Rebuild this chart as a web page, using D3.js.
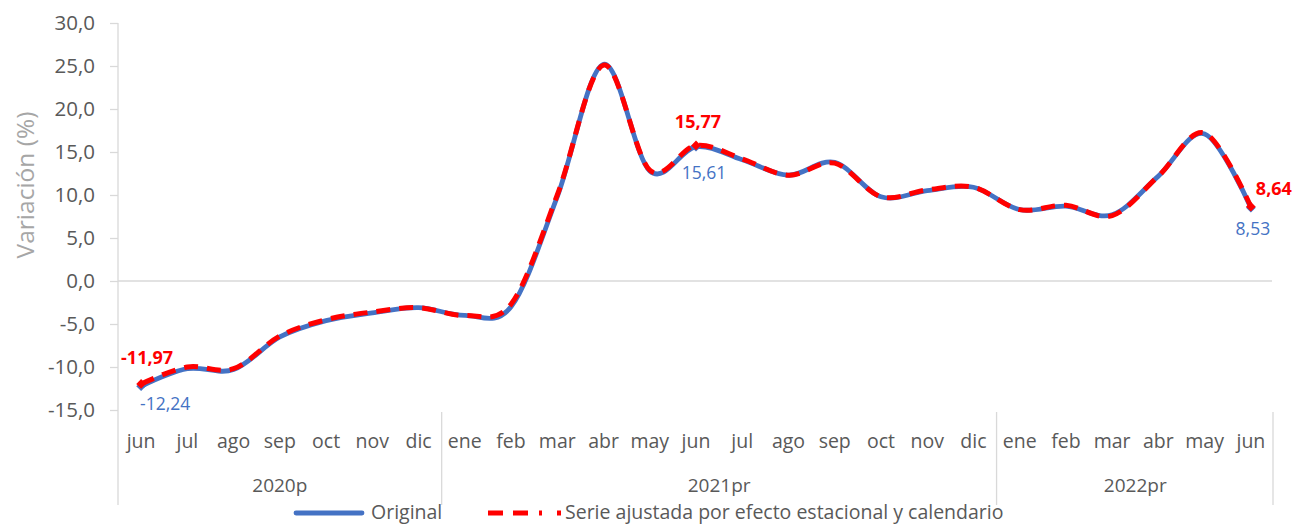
<!DOCTYPE html>
<html>
<head>
<meta charset="utf-8">
<script src="https://cdn.jsdelivr.net/npm/d3@7"></script>
<style>
  body { margin: 0; background: #fff; }
  text { font-family: "Open Sans", sans-serif; }
</style>
</head>
<body>
<svg></svg>
<script>
// meses y series
let months   = ['jun','jul','ago','sep','oct','nov','dic',
                'ene','feb','mar','abr','may','jun','jul','ago','sep','oct','nov','dic',
                'ene','feb','mar','abr','may','jun'];
let years    = ['2020p', '2021pr', '2022pr'];
let yearLen  = [7, 12, 6];

let original = [-12.24,-10.2,-10.3,-6.5,-4.6,-3.7,-3.1,
                -4.0,-3.0,9.8,25.2,12.8,15.61,14.1,12.3,13.8,9.8,10.5,10.9,
                8.3,8.7,7.7,12.2,17.1,8.53];
let ajustada = [-11.97,-10.0,-10.2,-6.4,-4.5,-3.6,-3.1,
                -4.0,-2.7,10.0,25.1,12.9,15.77,14.2,12.3,13.7,9.8,10.6,10.9,
                8.3,8.8,7.6,12.2,17.2,8.64];
let yTicks   = [-15,-10,-5,0,5,10,15,20,25,30];
let labelIdx = [0, 12, 24];

let width   = 1292,
    height  = 525,
    xLeft   = 118,
    xRight  = 1274,
    yTop    = 23,
    yBottom = 410;

let loc  = d3.formatLocale({decimal: ',', thousands: '.', grouping: [3], currency: ['', '€'], minus: '-'}),
    fmt1 = loc.format('.1f'),
    fmt2 = loc.format('.2f');

let xScale = d3.scaleBand()
               .domain(d3.range(months.length))
               .range([xLeft, xRight])
               .paddingInner(0).paddingOuter(0),
    bw     = xScale.bandwidth(),
    cx     = i => xScale(i) + bw / 2;

let yScale = d3.scaleLinear()
               .domain([-15, 30])
               .range([yBottom, yTop]),
    yAxis  = d3.axisLeft(yScale)
               .tickValues(yTicks)
               .tickFormat(fmt1)
               .tickSize(8)
               .tickSizeOuter(0);

let svg = d3.select('svg')
            .attr('width', width)
            .attr('height', height);

// eje y
let gy = svg.append('g')
    .attr('transform', `translate(${xLeft}, 0)`)
    .call(yAxis);
gy.select('.domain').remove();
gy.selectAll('.tick line').attr('stroke', '#d9d9d9').attr('stroke-width', 1.3);
gy.selectAll('.tick text')
    .attr('x', -23)
    .attr('fill', '#595959')
    .attr('font-size', 20.5);

svg.append('line')
    .attr('x1', xLeft).attr('x2', xLeft)
    .attr('y1', yTop).attr('y2', 505)
    .attr('stroke', '#d9d9d9').attr('stroke-width', 1.3);

// linea del cero
svg.append('line')
    .attr('x1', xLeft).attr('x2', xRight - 2)
    .attr('y1', yScale(0)).attr('y2', yScale(0))
    .attr('stroke', '#d9d9d9').attr('stroke-width', 1.3);

// eje de categorias
svg.append('g')
    .selectAll('text')
    .data(months)
    .enter()
    .append('text')
        .attr('x', (d, i) => cx(i))
        .attr('y', 441)
        .attr('dy', '0.35em')
        .attr('text-anchor', 'middle')
        .attr('fill', '#595959')
        .attr('font-size', 19.5)
        .text(d => d);

let starts = [0];
yearLen.forEach((n, i) => starts.push(starts[i] + n));

svg.append('g')
    .selectAll('line')
    .data(starts.slice(1))
    .enter()
    .append('line')
        .attr('x1', d => xScale(d) || xRight - 1)
        .attr('x2', d => xScale(d) || xRight - 1)
        .attr('y1', 412).attr('y2', 505)
        .attr('stroke', '#d9d9d9').attr('stroke-width', 1.3);

svg.append('g')
    .selectAll('text')
    .data(years)
    .enter()
    .append('text')
        .attr('x', (d, i) => xLeft + (starts[i] + yearLen[i] / 2) * bw)
        .attr('y', 485)
        .attr('dy', '0.35em')
        .attr('text-anchor', 'middle')
        .attr('fill', '#595959')
        .attr('font-size', 19)
        .text(d => d);

// titulo eje y
svg.append('text')
    .attr('transform', 'rotate(-90)')
    .attr('x', -185)
    .attr('y', 25)
    .attr('dy', '0.35em')
    .attr('text-anchor', 'middle')
    .attr('fill', '#a6a6a6')
    .attr('font-size', 24.5)
    .text('Variación (%)');

// lineas
let line = d3.line()
    .x((d, i) => cx(i))
    .y(d => yScale(d))
    .curve(d3.curveCardinal.tension(0));

svg.append('path')
    .datum(original)
    .attr('d', line)
    .attr('fill', 'none')
    .attr('stroke', '#4472c4')
    .attr('stroke-width', 4.8)
    .attr('stroke-linecap', 'round');

svg.append('path')
    .datum(ajustada)
    .attr('d', line)
    .attr('fill', 'none')
    .attr('stroke', '#ff0000')
    .attr('stroke-width', 5)
    .attr('stroke-dasharray', '14,9');

let diamond = d3.symbol().type(d3.symbolDiamond2).size(60);

[[original, '#4472c4'], [ajustada, '#ff0000']].forEach(([vals, col]) => {
    svg.append('g')
        .selectAll('path')
        .data(labelIdx)
        .enter()
        .append('path')
            .attr('d', diamond)
            .attr('transform', i => `translate(${cx(i)}, ${yScale(vals[i])})`)
            .attr('fill', col);
});

// etiquetas de datos
let blueLab = [[0, 24, 18], [12, 8, 26], [24, 2, 21]];
let redLab  = [[0, 6, -26], [12, 2, -24], [24, 23, -18]];

svg.append('g')
    .selectAll('text')
    .data(blueLab)
    .enter()
    .append('text')
        .attr('x', d => cx(d[0]) + d[1])
        .attr('y', d => yScale(original[d[0]]) + d[2])
        .attr('dy', '0.35em')
        .attr('text-anchor', 'middle')
        .attr('fill', '#4472c4')
        .attr('font-size', 17.5)
        .text(d => fmt2(original[d[0]]));

svg.append('g')
    .selectAll('text')
    .data(redLab)
    .enter()
    .append('text')
        .attr('x', d => cx(d[0]) + d[1])
        .attr('y', d => yScale(ajustada[d[0]]) + d[2])
        .attr('dy', '0.35em')
        .attr('text-anchor', 'middle')
        .attr('fill', '#ff0000')
        .attr('font-weight', 'bold')
        .attr('font-size', 18)
        .text(d => fmt2(ajustada[d[0]]));

// leyenda
let leg = svg.append('g');
leg.append('line')
    .attr('x1', 296).attr('x2', 362)
    .attr('y1', 513).attr('y2', 513)
    .attr('stroke', '#4472c4').attr('stroke-width', 4.8)
    .attr('stroke-linecap', 'round');
leg.append('text')
    .attr('x', 371).attr('y', 512).attr('dy', '0.35em')
    .attr('fill', '#595959').attr('font-size', 19.5)
    .text('Original');
leg.append('line')
    .attr('x1', 488).attr('x2', 561)
    .attr('y1', 513).attr('y2', 513)
    .attr('stroke', '#ff0000').attr('stroke-width', 5)
    .attr('stroke-dasharray', '15,10,15,11,3');
leg.append('text')
    .attr('x', 565).attr('y', 512).attr('dy', '0.35em')
    .attr('fill', '#595959').attr('font-size', 19.5)
    .text('Serie ajustada por efecto estacional y calendario');
</script>
</body>
</html>
